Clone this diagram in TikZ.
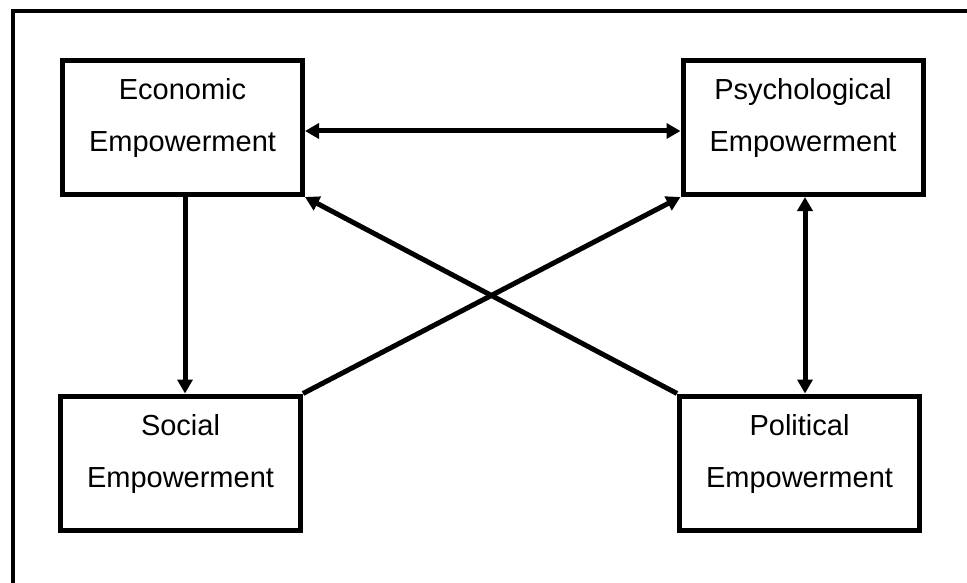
\documentclass[tikz,border=0pt]{standalone}
\usepackage{fontspec}
\setmainfont{Liberation Sans}
\usetikzlibrary{arrows.meta}
\begin{document}
\begin{tikzpicture}[x=1pt,y=-1pt,
  conceptbox/.style={draw,line width=5pt,minimum width=240pt,minimum height=134pt,inner sep=0pt},
  boxlabel/.style={align=center,inner sep=0pt,yshift=9pt,font=\fontsize{29}{52}\selectfont},
  link/.style={line width=5pt,-{Triangle[length=14pt,width=15pt]}},
  dlink/.style={line width=5pt,{Triangle[length=14pt,width=15pt]}-{Triangle[length=14pt,width=15pt]}},
  frameline/.style={line width=4.5pt}]
\useasboundingbox (0,0) rectangle (967,583);
% open frame: left and top edges only
\draw[frameline] (13,583) -- (13,11) -- (967,11);
% the four dimensions
\node[conceptbox] (econ) at (182.5,127.5) {};
\node[conceptbox] (psy)  at (803,127.5) {};
\node[conceptbox] (soc)  at (180.5,463) {};
\node[conceptbox] (pol)  at (799.5,463) {};
\node[boxlabel] (econtxt) at (econ.center) {Economic\\Empowerment};
\node[boxlabel] (psytxt)  at (psy.center)  {Psychological\\Empowerment};
\node[boxlabel] (soctxt)  at (soc.center)  {Social\\Empowerment};
\node[boxlabel] (poltxt)  at (pol.center)  {Political\\Empowerment};
% relations
\draw[dlink] ([yshift=-3.5pt]econ.east) -- ([yshift=-3.5pt]econ.east -| psy.west);
\draw[link] ([xshift=2.5pt]econ.south) -- ([xshift=2.5pt]econ.south |- soc.north);
\draw[dlink] ([xshift=2pt]psy.south) -- ([xshift=2pt]psy.south |- pol.north);
\draw[link] (soc.north east) -- (psy.south west);
\draw[link] (pol.north west) -- (econ.south east);
\end{tikzpicture}
\end{document}
